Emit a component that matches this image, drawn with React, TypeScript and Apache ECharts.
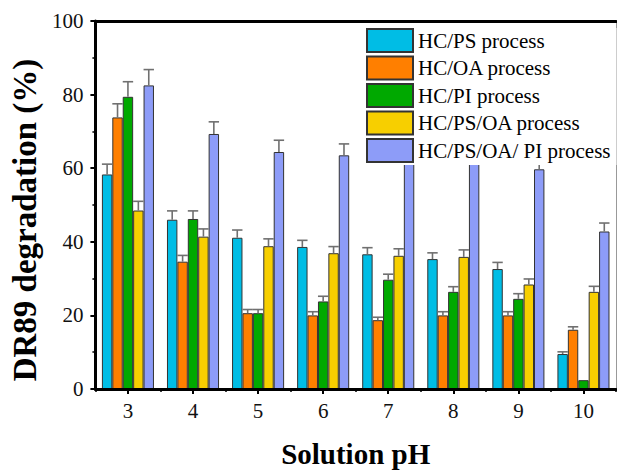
import React, { useEffect, useRef } from "react";
import * as echarts from "echarts";

const categories = ["3", "4", "5", "6", "7", "8", "9", "10"];
const seriesNames = [
  "HC/PS process",
  "HC/OA process",
  "HC/PI process",
  "HC/PS/OA process",
  "HC/PS/OA/ PI process",
];
const colors = ["#00BDE5", "#FF7F00", "#00A900", "#F7CF00", "#8D9CF8"];

const hcPs = [58.3, 46.0, 41.1, 38.6, 36.6, 35.3, 32.6, 9.5];
const hcPsErr = [2.8, 2.4, 2.1, 1.8, 1.8, 1.7, 1.8, 0.6];
const hcOa = [73.8, 34.6, 20.6, 20.0, 18.7, 20.0, 20.0, 16.1];
const hcOaErr = [3.7, 1.7, 1.0, 1.0, 0.8, 1.0, 1.0, 0.8];
const hcPi = [79.4, 46.2, 20.6, 23.8, 29.7, 26.4, 24.5, 2.4];
const hcPiErr = [4.1, 2.2, 1.0, 1.4, 1.5, 1.4, 1.4, 0];
const hcPsOa = [48.5, 41.4, 38.8, 36.9, 36.2, 35.9, 28.4, 26.4];
const hcPsOaErr = [2.5, 2.1, 2.0, 1.8, 1.9, 1.9, 1.5, 1.5];
const hcPsOaPi = [82.5, 69.3, 64.4, 63.5, 63.3, 61.3, 59.7, 42.8];
const hcPsOaPiErr = [4.3, 3.3, 3.2, 3.1, 3.1, 3.1, 2.9, 2.3];

const yTicks = [0, 20, 40, 60, 80, 100];

const values = [hcPs, hcOa, hcPi, hcPsOa, hcPsOaPi];
const errors = [hcPsErr, hcOaErr, hcPiErr, hcPsOaErr, hcPsOaPiErr];

const SERIF = "Liberation Serif";

export default function App() {
  const ref = useRef<HTMLDivElement>(null);
  useEffect(() => {
    if (!ref.current) return;
    const chart = echarts.init(ref.current, undefined, { renderer: "svg" });

    const errData: number[][] = [];
    values.forEach((arr, s) => {
      arr.forEach((v, i) => {
        errData.push([i, s, v, errors[s][i]]);
      });
    });

    const barSeries = values.map((arr, s) => ({
      name: seriesNames[s],
      type: "bar",
      data: arr,
      barGap: "0%",
      barCategoryGap: "20%",
      itemStyle: { color: colors[s], borderColor: "#333", borderWidth: 1 },
      z: 2,
    }));

    const option: any = {
      animation: false,
      backgroundColor: "#fff",
      textStyle: { fontFamily: SERIF },
      grid: { left: 90, right: 1, top: 21, bottom: 78.5 },
      legend: {
        orient: "vertical",
        left: 366,
        top: 28,
        padding: [0, 6, 2, 0],
        backgroundColor: "#fff",
        itemWidth: 46,
        itemHeight: 23,
        itemGap: 2.5,
        icon: "rect",
        data: seriesNames,
        textStyle: { fontFamily: SERIF, fontSize: 21, color: "#000" },
        z: 10,
      },
      xAxis: [
        {
          type: "category",
          data: categories,
          position: "bottom",
          name: "Solution pH",
          nameLocation: "middle",
          nameGap: 50,
          nameTextStyle: { fontFamily: SERIF, fontSize: 29, fontWeight: "bold", color: "#000" },
          axisLine: { show: true, lineStyle: { color: "#000", width: 3 } },
          axisTick: { show: true, alignWithLabel: true, length: 5, lineStyle: { color: "#000", width: 2 } },
          axisLabel: { fontFamily: SERIF, fontSize: 21, color: "#111", margin: 11 },
          splitLine: { show: false },
          z: 5,
        },
        {
          type: "category",
          data: categories,
          position: "bottom",
          axisLine: { show: false },
          axisTick: { show: true, alignWithLabel: false, length: 3, lineStyle: { color: "#000", width: 1.5 } },
          axisLabel: { show: false },
          splitLine: { show: false },
        },
        {
          type: "category",
          data: categories,
          position: "top",
          axisLine: { show: true, lineStyle: { color: "#000", width: 3 } },
          axisTick: { show: false },
          axisLabel: { show: false },
          splitLine: { show: false },
        },
      ],
      yAxis: [
        {
          type: "value",
          min: yTicks[0],
          max: yTicks[yTicks.length - 1],
          interval: 20,
          name: "DR89 degradation (%)",
          nameLocation: "middle",
          nameGap: 46,
          nameTextStyle: {
            fontFamily: SERIF,
            fontSize: 33,
            fontWeight: "bold",
            color: "#000",
            padding: [0, 30, 0, 0],
          },
          axisLine: { show: true, lineStyle: { color: "#000", width: 3 } },
          axisTick: { show: true, inside: false, length: 5, lineStyle: { color: "#000", width: 2 } },
          minorTick: { show: true, splitNumber: 2, length: 3, lineStyle: { color: "#000", width: 1.5 } },
          axisLabel: { fontFamily: SERIF, fontSize: 21, color: "#111", margin: 12 },
          splitLine: { show: false },
          z: 5,
        },
        {
          type: "value",
          position: "right",
          min: 0,
          max: 100,
          interval: 20,
          axisLine: { show: true, lineStyle: { color: "#999", width: 1 } },
          axisTick: { show: false },
          axisLabel: { show: false },
          splitLine: { show: false },
        },
      ],
      series: [
        ...barSeries,
        {
          type: "custom",
          name: "errors",
          xAxisIndex: 0,
          yAxisIndex: 0,
          z: 3,
          encode: { x: 0, y: 2 },
          data: errData,
          renderItem: (params: any, api: any) => {
            const cat = api.value(0);
            const s = api.value(1);
            const v = api.value(2);
            const e = api.value(3);
            if (!(e > 0)) return null;
            const band = api.size([1, 0])[0];
            const bw = (band * 0.8) / 5;
            const p1 = api.coord([cat, v]);
            const p2 = api.coord([cat, v + e]);
            const cx = p1[0] + (s - 2) * bw;
            const style = { stroke: "#707070", lineWidth: 1.6 };
            return {
              type: "group",
              children: [
                { type: "line", shape: { x1: cx, y1: p1[1], x2: cx, y2: p2[1] }, style },
                { type: "line", shape: { x1: cx - bw / 2, y1: p2[1], x2: cx + bw / 2, y2: p2[1] }, style },
              ],
            };
          },
        },
      ],
    };
    chart.setOption(option);
    return () => chart.dispose();
  }, []);
  return (
    <div
      ref={ref}
      style={{ position: "absolute", left: 0, top: 0, width: 617, height: 473 }}
    />
  );
}
